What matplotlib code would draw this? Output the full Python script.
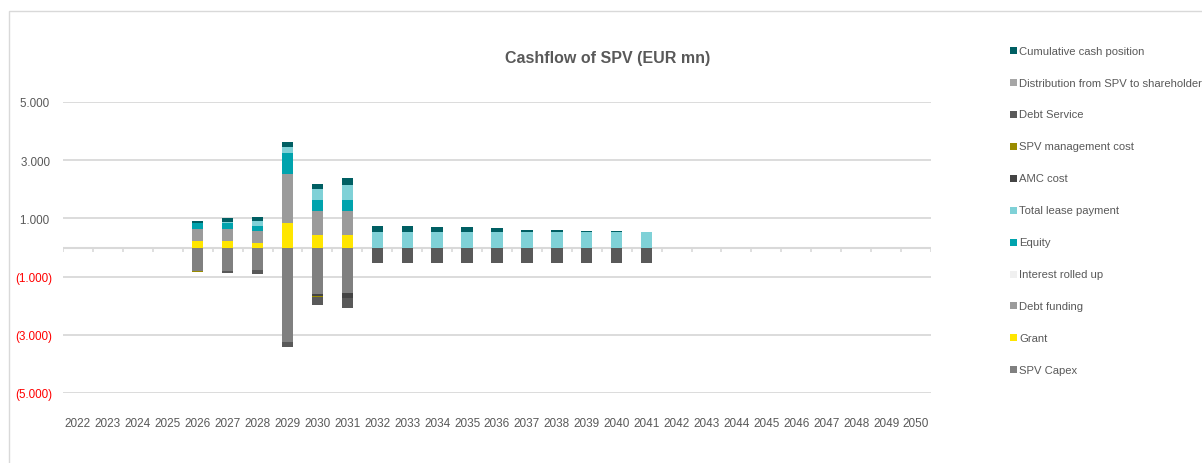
import matplotlib
matplotlib.use("Agg")
import matplotlib.pyplot as plt
from matplotlib.patches import Rectangle
import numpy as np

plt.rcParams['font.family'] = ['Liberation Sans', 'DejaVu Sans']

years = [str(y) for y in range(2022, 2051)]

def series(d):
    return [d.get(int(y), 0) for y in years]

spv_capex = series({2026: -800, 2027: -800, 2028: -780, 2029: -3240, 2030: -1610, 2031: -1575})
grant = series({2026: 215, 2027: 215, 2028: 160, 2029: 853, 2030: 438, 2031: 438})
debt_funding = series({2026: 434, 2027: 434, 2028: 420, 2029: 1660, 2030: 807, 2031: 807})
interest_rolled_up = series({})
equity = series({2026: 183, 2027: 205, 2028: 160, 2029: 738, 2030: 392, 2031: 392})
total_lease = series({2027: 30, 2028: 160, 2029: 208, 2030: 380, 2031: 496, 2032: 540, 2033: 540,
                      2034: 520, 2035: 520, 2036: 520, 2037: 520, 2038: 520, 2039: 520,
                      2040: 525, 2041: 520})
amc_cost = series({2030: -57, 2031: -150})
spv_mgmt_cost = series({2026: -45, 2030: -46})
debt_service = series({2027: -90, 2028: -125, 2029: -172, 2030: -253, 2031: -368,
                       2032: -520, 2033: -520, 2034: -520, 2035: -520, 2036: -520,
                       2037: -520, 2038: -520, 2039: -520, 2040: -520, 2041: -520})
distribution = series({})
cumulative_cash = series({2026: 68, 2027: 125, 2028: 137, 2029: 173, 2030: 161, 2031: 265,
                          2032: 207, 2033: 207, 2034: 172, 2035: 172, 2036: 138, 2037: 92,
                          2038: 92, 2039: 35, 2040: 35})

series_list = [
    ("SPV Capex", spv_capex, "#808080"),
    ("Grant", grant, "#FFE600"),
    ("Debt funding", debt_funding, "#9B9B9B"),
    ("Interest rolled up", interest_rolled_up, "#F0F0F0"),
    ("Equity", equity, "#00A3AD"),
    ("Total lease payment", total_lease, "#7FD1D7"),
    ("AMC cost", amc_cost, "#444444"),
    ("SPV management cost", spv_mgmt_cost, "#9A8C00"),
    ("Debt Service", debt_service, "#595959"),
    ("Distribution from SPV to shareholder", distribution, "#A6A6A6"),
    ("Cumulative cash position", cumulative_cash, "#005F63"),
]

W, H = 1202, 464
fig = plt.figure(figsize=(W / 100, H / 100), dpi=100)
ax = fig.add_axes([63 / W, (H - 394) / H, (931 - 63) / W, (394 - 103) / H])

x = np.arange(len(years))
pos_bottom = np.zeros(len(years))
neg_bottom = np.zeros(len(years))
bar_w = 0.38
for name, vals, col in series_list:
    v = np.array(vals, dtype=float)
    b = np.where(v >= 0, pos_bottom, neg_bottom)
    ax.bar(x, v, bottom=b, width=bar_w, color=col, edgecolor='none', zorder=3)
    pos_bottom += np.where(v > 0, v, 0)
    neg_bottom += np.where(v < 0, v, 0)

ax.set_xlim(-0.5, len(years) - 0.5)
ax.set_ylim(-5000, 5000)
yt = [-5000, -3000, -1000, 1000, 3000, 5000]
ax.set_yticks(yt)
ax.set_yticklabels([("(%s)" % f"{abs(v):,}".replace(",", ".")) if v < 0 else f"{v:,}".replace(",", ".") + "\u2009" for v in yt])
for lab, v in zip(ax.get_yticklabels(), yt):
    lab.set_color("#FF0000" if v < 0 else "#595959")
ax.tick_params(axis='y', length=0, pad=8, labelsize=8.4)
ax.set_xticks(x)
ax.set_xticklabels(years)
ax.tick_params(axis='x', length=0, pad=17, labelsize=8.5, labelcolor="#595959")
ax.grid(axis='y', color="#D9D9D9", linewidth=1.3, zorder=0)
ax.axhline(0, color="#D9D9D9", linewidth=1.5, zorder=2)
ax.vlines(np.arange(len(years) + 1) - 0.5, -170, 0, color="#D9D9D9", linewidth=1.2, zorder=2)
for s in ax.spines.values():
    s.set_visible(False)

fig.text(607.5 / W, 1 - 58 / H, "Cashflow of SPV (EUR mn)", ha='center', va='center',
         fontsize=11.5, fontweight='bold', color="#595959")

# legend (reverse order)
top = 51.7
step = 31.9
for i, (name, vals, col) in enumerate(reversed(series_list)):
    yc = top + i * step
    fig.add_artist(Rectangle((1009.5 / W, 1 - (yc + 3.5) / H), 7 / W, 7 / H,
                             transform=fig.transFigure, facecolor=col, edgecolor='none'))
    fig.text(1019 / W, 1 - yc / H, name, ha='left', va='center', fontsize=8.1, color="#595959")

# chart border
fig.add_artist(Rectangle((9 / W, -0.1), 1.2, (H - 12) / H + 0.1, transform=fig.transFigure,
                         facecolor='none', edgecolor="#D9D9D9", linewidth=1.0))

fig.savefig("out.png", dpi=100)
